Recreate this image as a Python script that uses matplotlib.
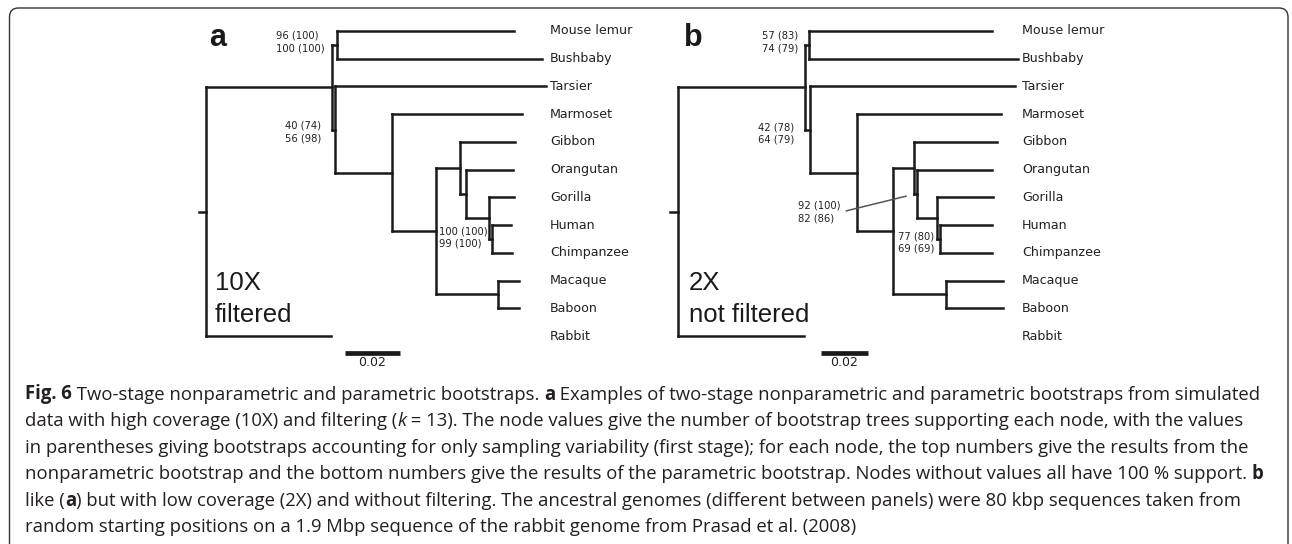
import matplotlib
matplotlib.use("Agg")
import matplotlib.pyplot as plt
from matplotlib.collections import LineCollection
from matplotlib.patches import FancyBboxPatch

W, H, DPI = 1292, 544, 100

# ---------------- data ----------------
node_names = ["root", "P", "S", "Mouse lemur", "Bushbaby", "H", "Tarsier", "A",
              "Marmoset", "C", "Ho", "Gibbon", "GA", "Orangutan", "AA", "Gorilla",
              "HC", "Human", "Chimpanzee", "Cerc", "Macaque", "Baboon", "Rabbit"]
parents = [-1, 0, 1, 2, 2, 1, 5, 5, 7, 7, 9, 10, 10, 12, 12, 14, 14, 16, 16, 9, 19, 19, 0]
# branch lengths (substitutions per site); first entry = root stub
branch_a = [0.0027, 0.0458, 0.0017, 0.0645, 0.0747, 0.0011, 0.0767, 0.0207, 0.0473,
            0.0159, 0.0089, 0.0200, 0.0021, 0.0171, 0.0084, 0.0091, 0.0010, 0.0070,
            0.0073, 0.0227, 0.0076, 0.0076, 0.0455]
branch_b = [0.0034, 0.0534, 0.0018, 0.0766, 0.0878, 0.0021, 0.0861, 0.0196, 0.0605,
            0.0154, 0.0087, 0.0347, 0.0011, 0.0315, 0.0084, 0.0238, 0.0014, 0.0220,
            0.0217, 0.0219, 0.0242, 0.0242, 0.0529]

support_nodes_a = ["S", "H", "HC"]
support_top_a = ["96 (100)", "40 (74)", "100 (100)"]
support_bot_a = ["100 (100)", "56 (98)", "99 (100)"]
support_nodes_b = ["S", "H", "GA", "HC"]
support_top_b = ["57 (83)", "42 (78)", "92 (100)", "77 (80)"]
support_bot_b = ["74 (79)", "64 (79)", "82 (86)", "69 (69)"]

panel_letters = ["a", "b"]
panel_notes = [["10X", "filtered"], ["2X", "not filtered"]]
scale_bar_len = 0.02
scale_bar_label = "0.02"

caption_lines = [
    [("Fig. 6", "bold", "normal"),
     (" Two-stage nonparametric and parametric bootstraps. ", "normal", "normal"),
     ("a", "bold", "normal"),
     (" Examples of two-stage nonparametric and parametric bootstraps from simulated", "normal", "normal")],
    [("data with high coverage (10X) and filtering (", "normal", "normal"),
     ("k", "normal", "italic"),
     (" = 13). The node values give the number of bootstrap trees supporting each node, with the values", "normal", "normal")],
    [("in parentheses giving bootstraps accounting for only sampling variability (first stage); for each node, the top numbers give the results from the", "normal", "normal")],
    [("nonparametric bootstrap and the bottom numbers give the results of the parametric bootstrap. Nodes without values all have 100 % support. ", "normal", "normal"),
     ("b", "bold", "normal")],
    [("like (", "normal", "normal"), ("a", "bold", "normal"),
     (") but with low coverage (2X) and without filtering. The ancestral genomes (different between panels) were 80 kbp sequences taken from", "normal", "normal")],
    [("random starting positions on a 1.9 Mbp sequence of the rabbit genome from Prasad et al. (2008)", "normal", "normal")],
]

# ---------------- layout helpers ----------------
TREE_COL = "#1a1a1a"
TEXT_COL = "#222222"


def layout(parents, blen):
    n = len(parents)
    children = [[] for _ in range(n)]
    for i, p in enumerate(parents):
        if p >= 0:
            children[p].append(i)
    depth = [0.0] * n
    ypos = [0.0] * n
    tips = []

    def dfs(i):
        for c in children[i]:
            depth[c] = depth[i] + blen[c]
            dfs(c)
        if not children[i]:
            ypos[i] = float(len(tips))
            tips.append(i)
        else:
            ypos[i] = (ypos[children[i][0]] + ypos[children[i][-1]]) / 2.0

    dfs(0)
    return children, depth, ypos, tips


fig = plt.figure(figsize=(W / DPI, H / DPI), dpi=DPI)
bg = fig.add_axes([0, 0, 1, 1])
bg.set_xlim(0, W)
bg.set_ylim(H, 0)
bg.axis("off")
bg.set_zorder(0)

# outer rounded frame (open at the bottom)
frame = FancyBboxPatch((9.5, 8), 1278.5, 620, boxstyle="round,pad=0,rounding_size=9",
                       fc="none", ec="#333333", lw=1.0)
bg.add_patch(frame)

TIP0_PX = 31.0
TIP_STEP_PX = 27.73

panels = [
    dict(blen=branch_a, origin=206.0, scale=2750.0, ax_px=(140, 640), label_px=550.0,
         sn=support_nodes_a, st=support_top_a, sb=support_bot_a,
         spos=[(276, 42.0), (285, 132.0), (439, 237.7)], bar_px=345.0,
         letter_px=(209, 46.5), note_px=(215, 290.0), pointer=None),
    dict(blen=branch_b, origin=678.0, scale=2380.0, ax_px=(640, 1140), label_px=1021.8,
         sn=support_nodes_b, st=support_top_b, sb=support_bot_b,
         spos=[(762, 42.2), (758, 133.3), (798.3, 212.0), (898.3, 242.5)], bar_px=820.7,
         letter_px=(684, 46.5), note_px=(689, 290.0),
         pointer=((845.7, 211.0), (906.7, 196.0))),
]

AX_TOP_PX, AX_BOT_PX = 10.0, 380.0

for k, pn in enumerate(panels):
    x0p, x1p = pn["ax_px"]
    ax = fig.add_axes([x0p / W, 1 - AX_BOT_PX / H, (x1p - x0p) / W, (AX_BOT_PX - AX_TOP_PX) / H])
    ax.set_zorder(2)
    ax.patch.set_alpha(0)
    ax.axis("off")
    ox, sc = pn["origin"], pn["scale"]
    ax.set_xlim((x0p - ox) / sc, (x1p - ox) / sc)
    ax.set_ylim((AX_BOT_PX - TIP0_PX) / TIP_STEP_PX, (AX_TOP_PX - TIP0_PX) / TIP_STEP_PX)

    def dx(px):
        return (px - ox) / sc

    def dy(py):
        return (py - TIP0_PX) / TIP_STEP_PX

    children, depth, ypos, tips = layout(parents, pn["blen"])
    segs = []
    segs.append([(-pn["blen"][0], ypos[0]), (0.0, ypos[0])])
    for i, p in enumerate(parents):
        if p >= 0:
            segs.append([(depth[p], ypos[i]), (depth[i], ypos[i])])
        if children[i]:
            segs.append([(depth[i], ypos[children[i][0]]), (depth[i], ypos[children[i][-1]])])
    lc = LineCollection(segs, colors=TREE_COL, linewidths=1.8, capstyle="projecting")
    ax.add_collection(lc)

    for t in tips:
        ax.text(dx(pn["label_px"]), ypos[t], node_names[t], ha="left", va="center",
                fontsize=9.1, family="DejaVu Sans", color=TEXT_COL)

    for (sx, sy), top, bot in zip(pn["spos"], pn["st"], pn["sb"]):
        ax.text(dx(sx), dy(sy), top + "\n" + bot, ha="left", va="center",
                multialignment="left", fontsize=7.2, family="DejaVu Sans",
                color=TEXT_COL, linespacing=1.3)

    if pn["pointer"] is not None:
        (p0x, p0y), (p1x, p1y) = pn["pointer"]
        ax.plot([dx(p0x), dx(p1x)], [dy(p0y), dy(p1y)], color="#555555", lw=1.1,
                solid_capstyle="butt")

    bx = dx(pn["bar_px"])
    ax.plot([bx, bx + scale_bar_len], [dy(353.3), dy(353.3)], color=TREE_COL, lw=3.4,
            solid_capstyle="butt")
    ax.text(bx + scale_bar_len / 2, dy(363.0), scale_bar_label, ha="center", va="center",
            fontsize=9, family="DejaVu Sans", color=TEXT_COL)

    lx, ly = pn["letter_px"]
    bg.text(lx, ly, panel_letters[k], ha="left", va="baseline", fontsize=22,
            fontweight="bold", family="Liberation Sans", color="#1a1a1a")
    nx, ny = pn["note_px"]
    bg.text(nx, ny, panel_notes[k][0], ha="left", va="baseline", fontsize=18.5,
            family="Liberation Sans", color="#1a1a1a")
    bg.text(nx, ny + 31.7, panel_notes[k][1], ha="left", va="baseline", fontsize=18.5,
            family="Liberation Sans", color="#1a1a1a")

# ---------------- caption ----------------
renderer = fig.canvas.get_renderer()
CAP_FONT = "Open Sans"
CAP_COL = "#231f20"


def run_width(s, weight, style, fs):
    t1 = bg.text(0, 0, "I" + s + "I", fontsize=fs, family=CAP_FONT, fontweight=weight,
                 fontstyle=style)
    t2 = bg.text(0, 0, "II", fontsize=fs, family=CAP_FONT, fontweight=weight,
                 fontstyle=style)
    w = t1.get_window_extent(renderer).width - t2.get_window_extent(renderer).width
    t1.remove()
    t2.remove()
    return w


fs0 = 12.0
w_line1 = sum(run_width(s, wt, st, fs0) for s, wt, st in caption_lines[0])
CAP_FS = fs0 * (1229.0 / w_line1)

CAP_X0 = 25.0
CAP_BASE0 = 399.5
CAP_STEP = 26.6
for li, runs in enumerate(caption_lines):
    x = CAP_X0
    y = CAP_BASE0 + li * CAP_STEP
    for s, wt, st in runs:
        bg.text(x, y, s, ha="left", va="baseline", fontsize=CAP_FS, family=CAP_FONT,
                fontweight=wt, fontstyle=st, color=CAP_COL)
        x += run_width(s, wt, st, CAP_FS)

fig.savefig("out.png", dpi=DPI)
